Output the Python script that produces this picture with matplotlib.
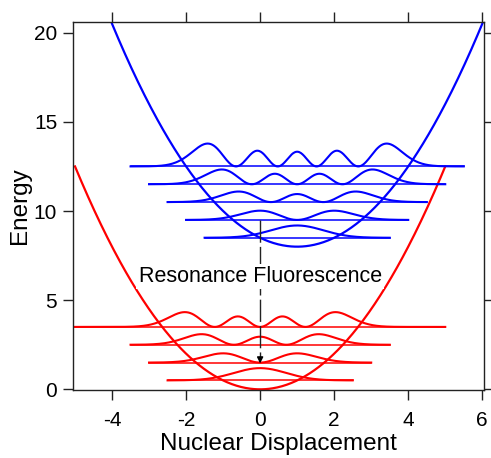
import math
import matplotlib
matplotlib.use("Agg")
import matplotlib.pyplot as plt
import numpy as np
from numpy.polynomial import hermite

plt.rcParams['font.family'] = ['Liberation Sans', 'DejaVu Sans']
plt.rcParams['axes.unicode_minus'] = False

# potential wells: energy = bottom + 0.5*(x - centre)^2
red_centre, red_bottom, red_span = 0.0, 0.0, (-5.0, 5.0)
blue_centre, blue_bottom, blue_span = 1.0, 8.0, (-4.0, 6.0)

# vibrational levels, half widths of the level lines, amplitude of |psi|^2
red_levels = [0.5, 1.5, 2.5, 3.5]
red_halfwidths = [2.5, 3.0, 3.5, 5.0]
blue_levels = [8.5, 9.5, 10.5, 11.5, 12.5]
blue_halfwidths = [2.5, 3.0, 3.5, 4.0, 4.5]
amp_scale = [1.22, 1.25, 1.6, 2.4, 3.9]

# emission arrow
arrow_x = 0.0
arrow_top = 9.5
arrow_bottom = 1.45
label_text = "Resonance Fluorescence"
label_y = 6.03

x_ticks = [-4, -2, 0, 2, 4, 6]
y_ticks = [0, 5, 10, 15, 20]


def psi2(n, u):
    c = np.zeros(n + 1)
    c[n] = 1
    h = hermite.hermval(u, c)
    return h**2 * np.exp(-u**2) / (2**n * math.factorial(n) * math.sqrt(math.pi))


def draw_well(ax, centre, bottom, span, levels, halfwidths, color):
    x = np.linspace(span[0], span[1], 400)
    ax.plot(x, bottom + 0.5 * (x - centre)**2, color=color, lw=1.6)
    for n, (E, hw) in enumerate(zip(levels, halfwidths)):
        xs = np.linspace(centre - hw, centre + hw, 400)
        ax.plot([xs[0], xs[-1]], [E, E], color=color, lw=1.1)
        ax.plot(xs, E + amp_scale[n] * psi2(n, xs - centre), color=color, lw=1.5)


fig = plt.figure(figsize=(4.91, 4.58), dpi=100)
ax = fig.add_axes([0.149, 0.148, 0.837, 0.804])

draw_well(ax, red_centre, red_bottom, red_span, red_levels, red_halfwidths, '#ff0000')
draw_well(ax, blue_centre, blue_bottom, blue_span, blue_levels, blue_halfwidths, '#0000ff')

ax.plot([arrow_x, arrow_x], [arrow_top, arrow_bottom + 0.3], color='#222222',
        lw=1.0, dashes=(16, 3), zorder=4)
ax.annotate('', xy=(arrow_x, arrow_bottom), xytext=(arrow_x, arrow_bottom + 0.35),
            arrowprops=dict(arrowstyle='-|>', color='black', lw=1.0,
                            mutation_scale=9, shrinkA=0, shrinkB=0), zorder=5)
ax.text(arrow_x, label_y, label_text, ha='center', va='baseline', fontsize=15.5,
        bbox=dict(facecolor='white', edgecolor='none', pad=1.5), zorder=6)

ax.set_xlim(-5.05, 6.05)
ax.set_ylim(-0.05, 20.6)
ax.set_xticks(x_ticks)
ax.set_yticks(y_ticks)
ax.tick_params(direction='out', length=7.5, width=1, labelsize=15, pad=4,
               top=True, right=True, colors='#222222', labelcolor='black')
ax.tick_params(axis='x', pad=7.5)
for s in ax.spines.values():
    s.set_linewidth(1.0)
    s.set_color('#222222')
ax.set_xlabel("Nuclear Displacement", fontsize=17.5, labelpad=2)
ax.set_ylabel("Energy", fontsize=17.5, labelpad=2)

fig.savefig("out.png", dpi=100)
